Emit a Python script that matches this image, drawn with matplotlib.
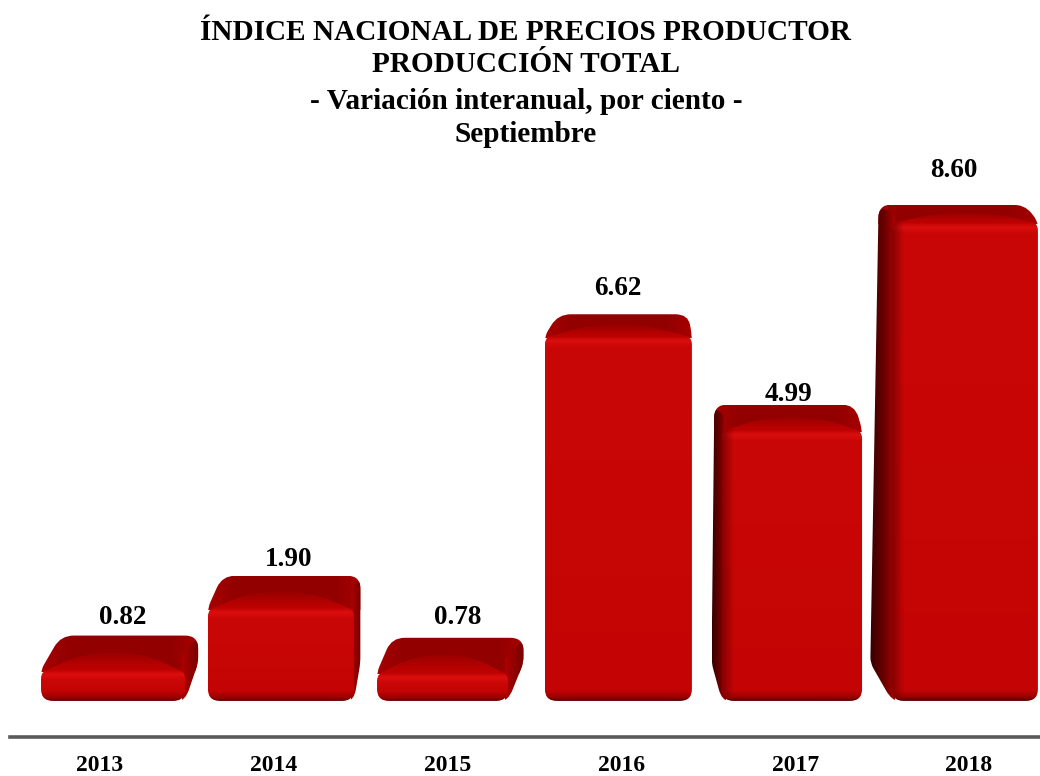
import numpy as np
import matplotlib
matplotlib.use("Agg")
import matplotlib.pyplot as plt
from matplotlib.path import Path
from matplotlib.patches import PathPatch
from matplotlib.colors import to_rgb

# ---------- data ----------
years = ["2013", "2014", "2015", "2016", "2017", "2018"]
values = [0.82, 1.90, 0.78, 6.62, 4.99, 8.60]
title_top = ["ÍNDICE NACIONAL DE PRECIOS PRODUCTOR", "PRODUCCIÓN TOTAL"]
title_sub = ["- Variación interanual, por ciento -", "Septiembre"]

# ---------- layout / style (category-axis units, pixels) ----------
bar_nudge = [0.075, 0.041, -0.029, -0.017, -0.018, -0.023]
bar_width = [0.829, 0.84, 0.754, 0.846, 0.806, 0.84]
label_nudge = [0.132, 0.086, 0.061, -0.019, -0.041, -0.086]
label_gap = [18, 16, 20, 26, 10, 34]
back_shift_l = [0, 0, 6, 10, 0, 0]
back_shift_r = [-2, -3, 11, -2, 0, 0]
VP, K = 640, 0.033          # perspective vanishing x (px), depth factor
FONT = "Liberation Serif"

W, H = 1040, 776
fig = plt.figure(figsize=(W / 100, H / 100), dpi=100)
ax = fig.add_axes([10 / W, (H - 737) / H, 1030 / W, (737 - 155) / H])
ax.set_xlim(-0.518, 5.409)
ax.set_ylim(-1.011, 9.495)
ax.set_autoscale_on(False)
for s in ("top", "left", "right"):
    ax.spines[s].set_visible(False)
ax.spines["bottom"].set_color("#5a5a5a")
ax.spines["bottom"].set_linewidth(2.6)
ax.set_yticks([])
ax.set_xticks(range(len(years)), years, fontfamily=FONT, fontweight="bold", fontsize=17)
ax.tick_params(axis="x", length=0, pad=13, colors="black")


def px(x, y):
    p = ax.transData.transform((x, y))
    return p[0], H - p[1]


def to_data(points):
    pts = np.array(points, dtype=float)
    pts[:, 1] = H - pts[:, 1]
    return ax.transData.inverted().transform(pts)


def rounded(points, radii):
    """Closed path through points with rounded corners (pixel space)."""
    n = len(points)
    verts, codes = [], []
    for i in range(n):
        p = np.array(points[i], float)
        a = np.array(points[i - 1], float)
        b = np.array(points[(i + 1) % n], float)
        r = radii[i]
        ua = (a - p) / max(np.linalg.norm(a - p), 1e-6)
        ub = (b - p) / max(np.linalg.norm(b - p), 1e-6)
        r1 = min(r, np.linalg.norm(a - p) / 2)
        r2 = min(r, np.linalg.norm(b - p) / 2)
        s, e = p + ua * r1, p + ub * r2
        verts += [s, p, e]
        codes += [Path.MOVETO if i == 0 else Path.LINETO, Path.CURVE3, Path.CURVE3]
    verts.append(verts[0])
    codes.append(Path.CLOSEPOLY)
    return Path(to_data(verts), codes)


def ramp(stops, n=256):
    pos = np.array([s[0] for s in stops])
    cols = np.array([to_rgb(s[1]) for s in stops])
    t = np.linspace(0, 1, n)
    return np.stack([np.interp(t, pos, cols[:, c]) for c in range(3)], axis=-1)


def fill(path, box, stops, horizontal=False, z=2, alpha=None):
    """Paint a gradient across pixel box (x0, y0, x1, y1), clipped to path."""
    patch = PathPatch(path, facecolor="none", edgecolor="none", zorder=z)
    ax.add_patch(patch)
    g = ramp(stops)
    if alpha is not None:
        a = np.interp(np.linspace(0, 1, 256), [0, 1], alpha)
        g = np.dstack([g[None, :, :], a[None, :, None]])[0]
    img = g[None, :, :] if horizontal else g[:, None, :]
    (x0, y0), (x1, y1) = to_data([(box[0], box[1]), (box[2], box[3])])
    im = ax.imshow(img, extent=[x0, x1, y1, y0], origin="upper", aspect="auto",
                   interpolation="bilinear", zorder=z)
    im.set_clip_path(patch)


for i, v in enumerate(values):
    c = i + bar_nudge[i]
    fl, base = px(c - bar_width[i] / 2, -0.36)
    fr, _ = px(c + bar_width[i] / 2, -0.36)
    _, btop = px(c, v)
    _, ftop = px(c, 1.04 * v - 0.65)
    bl = fl + (VP - fl) * K + back_shift_l[i]
    br = fr + (VP - fr) * K + back_shift_r[i]
    dl, dr = bl - fl, br - fr
    if dl < 0:
        bl -= 5
    z = 2 + i * 0.1
    knee = max(base - 38, btop + 6)

    # whole silhouette (top face and side faces)
    out_l = fl - 5 + 2 * dl if dl < 0 else fl
    out_r = max(br, fr)
    outline, radii = [(bl, btop), (br, btop)], [13, 13]
    if dr > 0:
        outline.append((out_r, knee))
        radii.append(6)
    else:
        outline.append((fr, ftop))
        radii.append(7)
    outline += [(fr, base), (fl, base)]
    radii += [12, 12]
    if dl < 0:
        outline.append((out_l, knee))
    else:
        outline.append((fl, ftop))
    radii.append(6)
    sil = rounded(outline, radii)

    # top face: brighter at the corners, dark across the back
    fill(sil, (out_l, btop, out_r, ftop + 2),
         [(0, "#a80000"), (0.18, "#920000"), (0.82, "#920000"), (1, "#a80000")],
         horizontal=True, z=z)

    # lit area of the top face, rising from the front edge
    rise = (ftop - btop) * 0.5
    w = fr - fl
    roof = rounded([(fl + 4, ftop + 1), (fl + 0.3 * w, ftop - rise), (fr - 0.3 * w, ftop - rise),
                    (fr - 4, ftop + 1)], [0, 30, 30, 0])
    fill(roof, (fl, ftop - rise, fr, ftop + 1),
         [(0, "#9a0000"), (1, "#c20202")], z=z + 0.005)

    # side faces
    if dl < 0:
        side = rounded([(bl, btop), (fl + 14, ftop), (fl + 14, base), (fl, base), (out_l, knee)],
                       [13, 0, 0, 12, 6])
        fill(side, (out_l, btop, fl + 3, base),
             [(0, "#360000"), (0.55, "#680000"), (1, "#a80202")],
             horizontal=True, z=z + 0.01)
    if dr > 0:
        side = rounded([(br, btop), (out_r, knee), (fr, base), (fr - 14, base), (fr - 14, ftop)],
                       [13, 6, 12, 0, 0])
        fill(side, (fr - 3, btop, out_r, base),
             [(0, "#b00000"), (0.5, "#900000"), (1, "#780000")],
             horizontal=True, z=z + 0.01)

    # front face
    rf = min(12, (base - ftop) / 2.2)
    front = rounded([(fl, ftop), (fr, ftop), (fr, base), (fl, base)], [9, 9, rf, rf])
    h = base - ftop
    fill(front, (fl, ftop, fr, base),
         [(0, "#b80000"), (5 / h, "#dc0e0e"), (11 / h, "#ca0707"),
          (1 - 10 / h, "#c40404"), (1 - 3 / h, "#980000"), (1, "#600000")], z=z + 0.02)
    if dl < 0:
        fill(front, (fl, ftop, fl + 12, base), [(0, "#700000"), (1, "#700000")],
             horizontal=True, z=z + 0.03, alpha=[0.75, 0.0])

    # value label
    ax.annotate(f"{v:.2f}", xy=(i + label_nudge[i], v), xytext=(0, label_gap[i]),
                textcoords="offset pixels", ha="center", va="center",
                fontfamily=FONT, fontweight="bold", fontsize=19.5, color="black",
                annotation_clip=False, zorder=10)

for lines, yc in ((title_top, 48.5), (title_sub, 118)):
    fig.text(526 / W, 1 - yc / H, "\n".join(lines), ha="center", va="center",
             fontfamily=FONT, fontweight="bold", fontsize=21.1, linespacing=1.26, color="black")

fig.savefig("out.png", dpi=100, facecolor="white")
